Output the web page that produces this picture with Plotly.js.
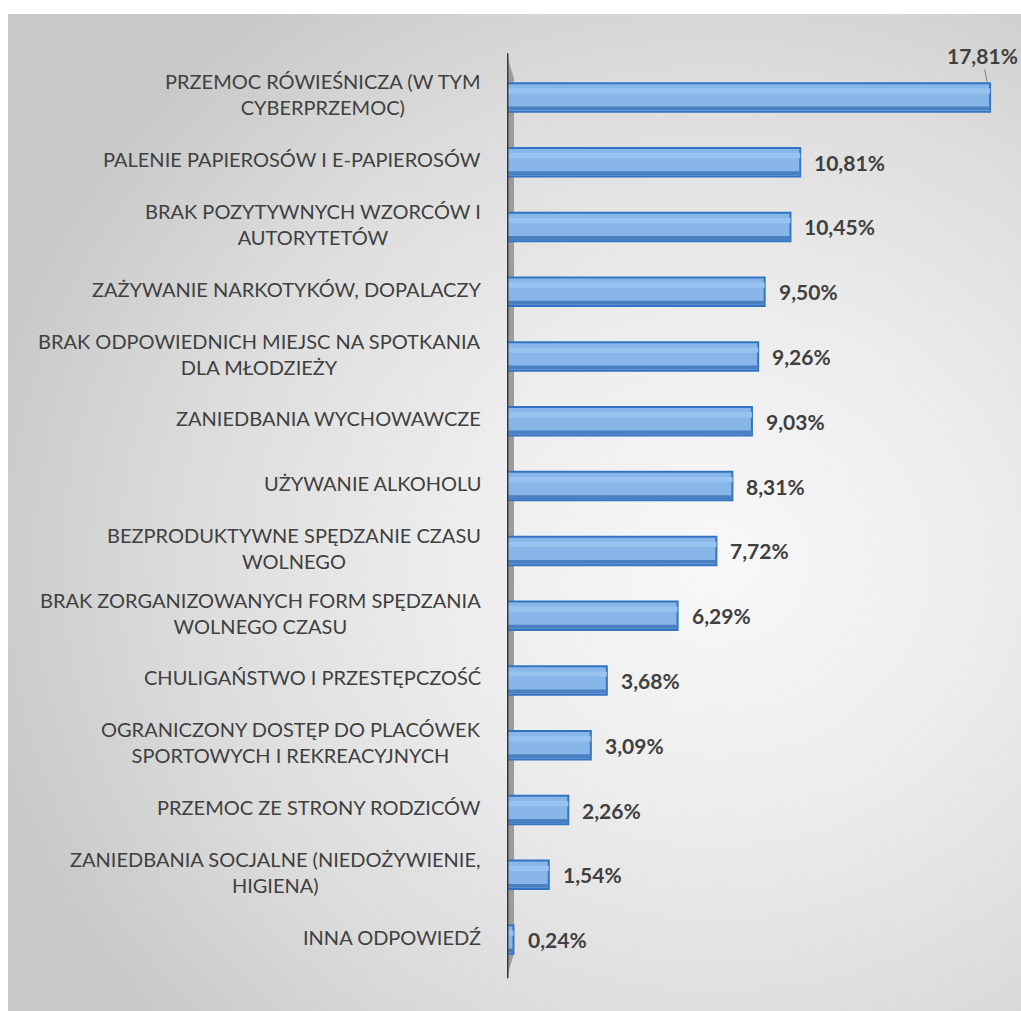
<!DOCTYPE html>
<html>
<head>
<meta charset="utf-8">
<script src="https://cdn.plot.ly/plotly-3.0.1.min.js"></script>
<style>
  html, body { margin: 0; padding: 0; background: #ffffff; width: 1021px; height: 1011px; overflow: hidden; }
  #bg { position: absolute; left: 8px; top: 14px; width: 1013px; height: 997px;
        background: radial-gradient(ellipse 75% 70% at 70% 55%, #f8f8f8 0%, #ededed 35%, #dcdcdc 70%, #c8c8c8 100%); }
  #chart { position: absolute; left: 0; top: 0; width: 1021px; height: 1011px; }
</style>
</head>
<body>
<div id="bg"></div>
<div id="chart"></div>
<script>
const categories = [
  "PRZEMOC RÓWIEŚNICZA (W TYM<br>CYBERPRZEMOC)",
  "PALENIE PAPIEROSÓW I E-PAPIEROSÓW",
  "BRAK POZYTYWNYCH WZORCÓW I<br>AUTORYTETÓW",
  "ZAŻYWANIE NARKOTYKÓW, DOPALACZY",
  "BRAK ODPOWIEDNICH MIEJSC NA SPOTKANIA<br>DLA MŁODZIEŻY",
  "ZANIEDBANIA WYCHOWAWCZE",
  "UŻYWANIE ALKOHOLU",
  "BEZPRODUKTYWNE SPĘDZANIE CZASU<br>WOLNEGO",
  "BRAK ZORGANIZOWANYCH FORM SPĘDZANIA<br>WOLNEGO CZASU",
  "CHULIGAŃSTWO I PRZESTĘPCZOŚĆ",
  "OGRANICZONY DOSTĘP DO PLACÓWEK<br>SPORTOWYCH I REKREACYJNYCH",
  "PRZEMOC ZE STRONY RODZICÓW",
  "ZANIEDBANIA SOCJALNE (NIEDOŻYWIENIE,<br>HIGIENA)",
  "INNA ODPOWIEDŹ"
];
const values = [17.81, 10.81, 10.45, 9.50, 9.26, 9.03, 8.31, 7.72, 6.29, 3.68, 3.09, 2.26, 1.54, 0.24];
const valueLabels = values.map(v => v.toFixed(2).replace('.', ',') + '%');

const labelFont = { family: "Lato, 'Liberation Sans', sans-serif", size: 20, color: '#404040' };
const valueFont = { family: "Lato, 'Liberation Sans', sans-serif", size: 21, color: '#404040', weight: 'bold' };

const traces = [
  { // main bar body
    type: 'bar', orientation: 'h', y: categories, x: values,
    width: 0.44,
    marker: { color: '#88b6e9', line: { color: '#3374c2', width: 2 } },
    hoverinfo: 'skip'
  },
  { // darker bottom face
    type: 'bar', orientation: 'h', y: categories, x: values,
    width: 0.06, offset: 0.14,
    marker: { color: '#4a80c2', line: { width: 0 } },
    hoverinfo: 'skip'
  },
  { // subtle highlight stripe
    type: 'bar', orientation: 'h', y: categories, x: values,
    width: 0.08, offset: -0.14,
    marker: { color: '#98c3f0', line: { width: 0 } },
    hoverinfo: 'skip'
  }
];

const annotations = [];
categories.forEach((c, i) => {
  annotations.push({
    x: 0, y: c, xref: 'x', yref: 'y', xanchor: 'right', xshift: -24, yshift: 3,
    text: c, showarrow: false, align: 'center', font: labelFont
  });
  if (i === 0) {
    annotations.push({
      x: values[i], y: c, xref: 'x', yref: 'y', text: valueLabels[i],
      showarrow: true, arrowhead: 0, arrowwidth: 1, arrowcolor: '#808080',
      ax: -8, ay: -42, standoff: 15, font: valueFont
    });
  } else {
    annotations.push({
      x: values[i], y: c, xref: 'x', yref: 'y', xanchor: 'left', xshift: 12,
      text: valueLabels[i], showarrow: false, font: valueFont
    });
  }
});

const layout = {
  width: 1021, height: 1011,
  margin: { l: 507, r: 0, t: 65, b: 39 },
  paper_bgcolor: 'rgba(0,0,0,0)', plot_bgcolor: 'rgba(0,0,0,0)',
  barmode: 'overlay', showlegend: false,
  xaxis: { range: [0, 18.95], visible: false, fixedrange: true },
  yaxis: { type: 'category', autorange: 'reversed', showticklabels: false,
           showgrid: false, zeroline: false, showline: false, ticks: '' },
  shapes: [
    { type: 'path', xref: 'x', yref: 'paper', xsizemode: 'pixel', xanchor: 0,
      path: 'M0,1.01 L7,0.985 L7,0.02 L0,-0.005 Z',
      fillcolor: '#9c9c9c', line: { width: 0 }, layer: 'below' },
    { type: 'line', xref: 'x', yref: 'paper', x0: 0, x1: 0, y0: -0.007, y1: 1.013,
      line: { color: '#3a3a3a', width: 3 } }
  ],
  annotations: annotations
};

Plotly.newPlot('chart', traces, layout, { displayModeBar: false, staticPlot: true });
</script>
</body>
</html>
